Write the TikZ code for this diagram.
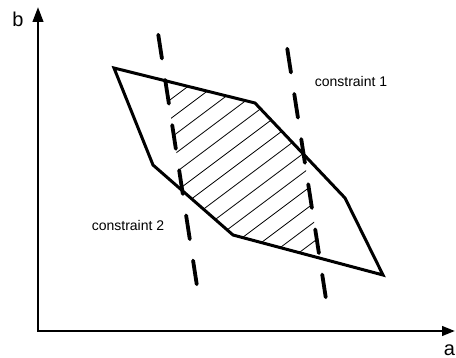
\documentclass[tikz,border=0pt]{standalone}
\usepackage{fontspec}
\setmainfont{Liberation Sans}
\usetikzlibrary{arrows.meta}
\begin{document}
\begin{tikzpicture}[x=1pt,y=-1pt,
  axis/.style={line width=2.6pt,{Triangle[length=15pt,width=10.5pt]}-{Triangle[length=13pt,width=9.5pt]}},
  region/.style={line width=3pt},
  constr/.style={line width=3.8pt,line cap=round,dash pattern=on 24pt off 21.7pt},
  hatchline/.style={line width=0.8pt},
  lbl/.style={font=\fontsize{14}{16}\selectfont,inner sep=0pt},
  axlbl/.style={font=\fontsize{20}{22}\selectfont,inner sep=0pt}]
\useasboundingbox (0,0) rectangle (456,358);
% coordinates
\coordinate (O) at (38,331);
\coordinate (Ytip) at (38,7);
\coordinate (Xtip) at (455,331);
\coordinate (p1) at (114,68);
\coordinate (p2) at (255,103);
\coordinate (p3) at (345,198);
\coordinate (p4) at (383,275);
\coordinate (p5) at (233,235);
\coordinate (p6) at (153,165);
\coordinate (l1) at (158.27,34.75);
\coordinate (l2) at (196.73,284.25);
\coordinate (r1) at (287.27,48.75);
\coordinate (r2) at (325.73,297.25);
% hatching
\begin{scope}
  \clip (p1) -- (p2) -- (p3) -- (p4) -- (p5) -- (p6) -- cycle;
  \clip (152.9,0) -- (208.1,358) -- (335.1,358) -- (279.7,0) -- cycle;
  \foreach \k in {-5,...,12} {
    \pgfmathsetmacro{\c}{285+19.2*\k}
    \draw[hatchline] (100,\c-75) -- (420,\c-315);
  }
\end{scope}
% region
\draw[region] (p1) -- (p2) -- (p3) -- (p4) -- (p5) -- (p6) -- cycle;
% constraints
\draw[constr] (l1) -- (l2);
\draw[constr] (r1) -- (r2);
% axes
\draw[axis] (Ytip) -- (O) -- (Xtip);
% labels
\node[axlbl] (lb) at (18,19) {b};
\node[axlbl] (la) at (449.5,350) {a};
\node[lbl] (c1) at (351,81) {constraint 1};
\node[lbl] (c2) at (128,225) {constraint 2};
\end{tikzpicture}
\end{document}
